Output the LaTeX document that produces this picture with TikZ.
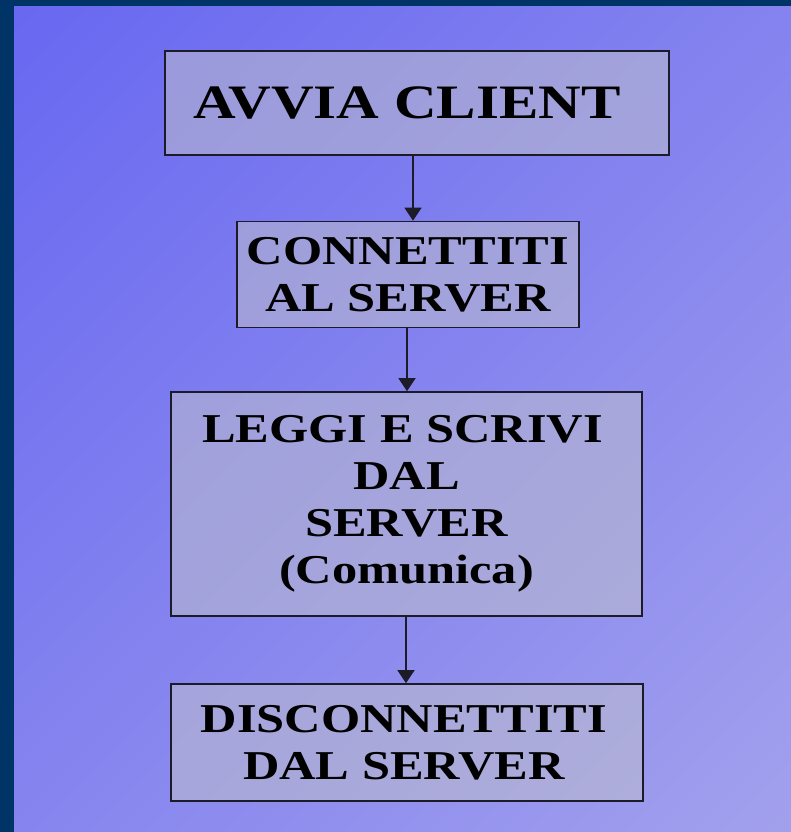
\documentclass[tikz,border=0pt]{standalone}
\usepackage{fontspec}
\setmainfont{Liberation Serif}[FakeStretch=1.23]
\usetikzlibrary{arrows.meta}
\definecolor{navy}{RGB}{0,51,102}
\definecolor{bgA}{RGB}{92,92,242}
\definecolor{bgB}{RGB}{174,172,236}
\definecolor{boxfill}{RGB}{190,190,205}
\definecolor{edge}{RGB}{28,28,40}
\pgfdeclarehorizontalshading{slidebg}{100bp}{color(0bp)=(bgA); color(100bp)=(bgB)}
\tikzset{
  stepbox/.style={draw=edge, line width=1.6pt, fill=boxfill, fill opacity=0.55,
    text opacity=1, draw opacity=1, inner sep=0pt, align=center, text=black,
    font=\bfseries\fontsize{41}{47}\selectfont},
  conn/.style={draw=edge, line width=1.6pt, -{Triangle[width=17pt,length=13pt]}}
}
\begin{document}
\begin{tikzpicture}[x=1pt,y=-1pt]
\useasboundingbox (0,0) rectangle (791,832);
% slide frame and diagonal background
\fill[navy] (0,0) rectangle (791,832);
\shade[shading=slidebg, shading angle=-45] (14,7) rectangle (791,832);

% flow steps
\node[stepbox, minimum width=504pt, minimum height=104pt,
      font=\bfseries\fontsize{48}{52}\selectfont] (b1) at (417,103)
  {AVVIA CLIENT\hspace*{20pt}};
\node[stepbox, minimum width=342pt, minimum height=106pt] (b2) at (408,274.5)
  {CONNETTITI\\AL SERVER};
\node[stepbox, minimum width=471pt, minimum height=224pt] (b3) at (406.5,504)
  {LEGGI E SCRIVI\hspace*{8pt}\\DAL\\SERVER\\(Comunica)};
\node[stepbox, minimum width=472pt, minimum height=117pt] (b4) at (407,742.5)
  {DISCONNETTITI\hspace*{6pt}\\DAL SERVER\hspace*{6pt}};

% connectors
\draw[conn] ([xshift=-4pt]b1.south) -- ([xshift=5pt]b2.north);
\draw[conn] ([xshift=-1pt]b2.south) -- ([xshift=0.5pt]b3.north);
\draw[conn] ([xshift=-0.5pt]b3.south) -- ([xshift=-1pt]b4.north);
\end{tikzpicture}
\end{document}
